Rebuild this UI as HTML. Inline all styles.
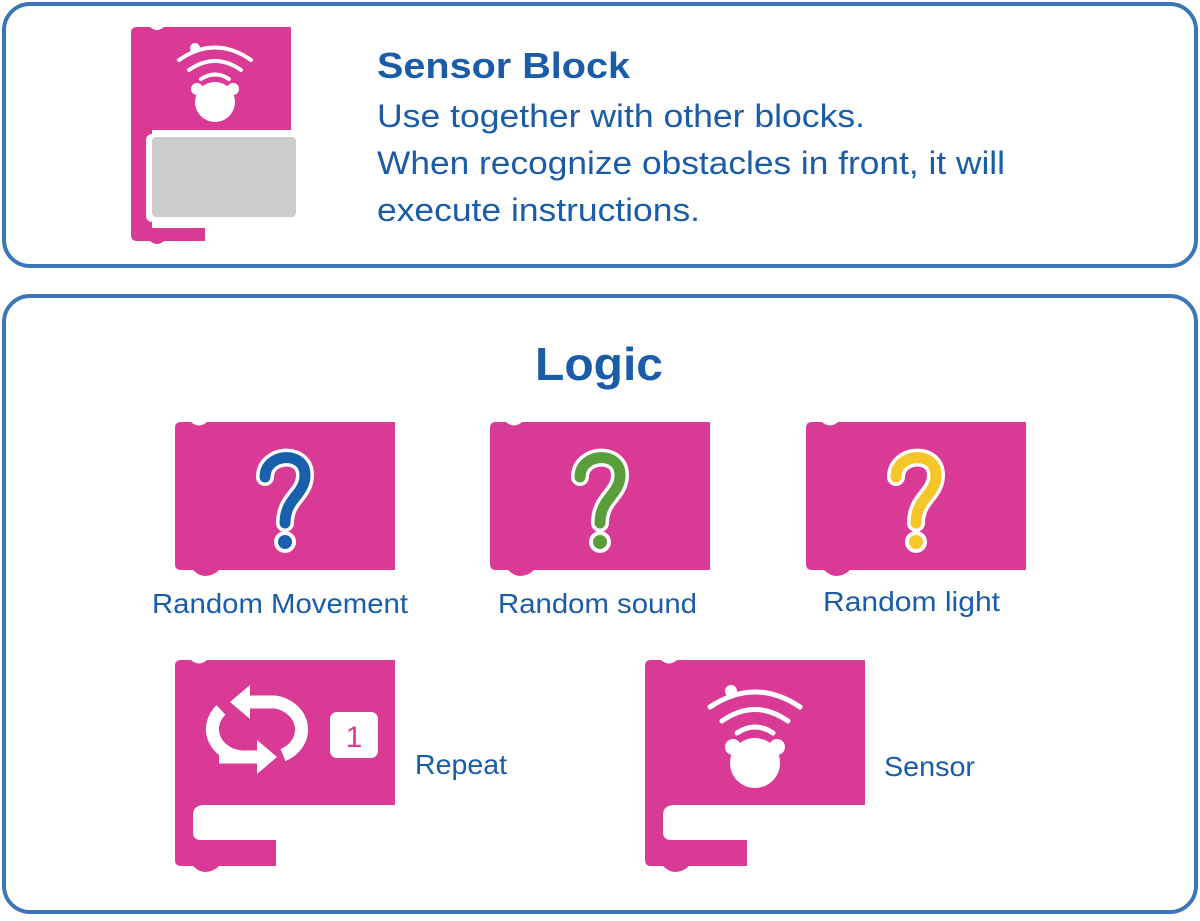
<!DOCTYPE html>
<html><head><meta charset="utf-8"><style>
body{margin:0;background:#fff;width:1200px;height:916px;overflow:hidden}
svg text{font-family:"Liberation Sans",sans-serif;fill:#1a5ca8}
</style></head><body>
<svg width="1200" height="916" viewBox="0 0 1200 916">
<defs>
<g id="qmark">
<path d="M-20,27 C-20,3 20,0 20,25 C20,45 0,48 0,73" fill="none" stroke="#fff" stroke-width="18" stroke-linecap="round"/>
<circle cx="0" cy="92" r="11" fill="#fff"/>
</g>
</defs>
<rect x="4" y="4" width="1192" height="262" rx="26" fill="#fff" stroke="#3b76b8" stroke-width="4"/>
<rect x="4" y="296" width="1192" height="616" rx="26" fill="#fff" stroke="#3b76b8" stroke-width="4"/>

<g>
<path d="M137,27 L150,27 Q157,33 164,27 L291,27 L291,130 L152,130 L152,228 L205,228 L205,241 L164,241 Q157,247 150,241 L137,241 Q131,241 131,235 L131,33 Q131,27 137,27Z" fill="#d93a96"/>
<rect x="146" y="134" width="152" height="88" rx="6" fill="#fff"/>
<rect x="152" y="137" width="144" height="80" rx="4" fill="#ccc"/>
<path d="M179,60 Q215,35 251,60" fill="none" stroke="#fff" stroke-width="4" stroke-linecap="round"/>
<circle cx="195" cy="48" r="5" fill="#fff"/>
<path d="M189,70 Q215,52 241,70" fill="none" stroke="#fff" stroke-width="4" stroke-linecap="round"/>
<path d="M201,79 Q215,70 229,79" fill="none" stroke="#fff" stroke-width="4" stroke-linecap="round"/>
<circle cx="215" cy="102" r="20" fill="#fff"/><circle cx="197" cy="89" r="6" fill="#fff"/><circle cx="233" cy="89" r="6" fill="#fff"/>
</g>
<text x="377" y="78" font-size="36" font-weight="bold" textLength="253" lengthAdjust="spacingAndGlyphs">Sensor Block</text>
<text x="377" y="127" font-size="32" textLength="488" lengthAdjust="spacingAndGlyphs">Use together with other blocks.</text>
<text x="377" y="174" font-size="32" textLength="628" lengthAdjust="spacingAndGlyphs">When recognize obstacles in front, it will</text>
<text x="377" y="221" font-size="32" textLength="323" lengthAdjust="spacingAndGlyphs">execute instructions.</text>

<text x="535" y="380" font-size="46" font-weight="bold" textLength="128" lengthAdjust="spacingAndGlyphs">Logic</text>

<g transform="translate(175,422)">
<path d="M6,0 L16,0 Q24,7 32,0 L220,0 L220,148 L44,148 Q38,154 30,154 Q24,154 18,148 L6,148 Q0,148 0,142 L0,6 Q0,0 6,0Z" fill="#d93a96"/>
<g transform="translate(110,28)"><use href="#qmark"/><path d="M-20,27 C-20,3 20,0 20,25 C20,45 0,48 0,73" fill="none" stroke="#1a5fab" stroke-width="11" stroke-linecap="round"/><circle cx="0" cy="92" r="7" fill="#1a5fab"/></g>
</g>
<g transform="translate(490,422)">
<path d="M6,0 L16,0 Q24,7 32,0 L220,0 L220,148 L44,148 Q38,154 30,154 Q24,154 18,148 L6,148 Q0,148 0,142 L0,6 Q0,0 6,0Z" fill="#d93a96"/>
<g transform="translate(110,28)"><use href="#qmark"/><path d="M-20,27 C-20,3 20,0 20,25 C20,45 0,48 0,73" fill="none" stroke="#5a9e3c" stroke-width="11" stroke-linecap="round"/><circle cx="0" cy="92" r="7" fill="#5a9e3c"/></g>
</g>
<g transform="translate(806,422)">
<path d="M6,0 L16,0 Q24,7 32,0 L220,0 L220,148 L44,148 Q38,154 30,154 Q24,154 18,148 L6,148 Q0,148 0,142 L0,6 Q0,0 6,0Z" fill="#d93a96"/>
<g transform="translate(110,28)"><use href="#qmark"/><path d="M-20,27 C-20,3 20,0 20,25 C20,45 0,48 0,73" fill="none" stroke="#f5c62a" stroke-width="11" stroke-linecap="round"/><circle cx="0" cy="92" r="7" fill="#f5c62a"/></g>
</g>
<text x="152" y="613" font-size="28" textLength="256" lengthAdjust="spacingAndGlyphs">Random Movement</text>
<text x="498" y="613" font-size="28" textLength="199" lengthAdjust="spacingAndGlyphs">Random sound</text>
<text x="823" y="611" font-size="28" textLength="177" lengthAdjust="spacingAndGlyphs">Random light</text>

<g transform="translate(175,660)">
<path d="M6,0 L16,0 Q24,7 32,0 L220,0 L220,145 L30,145 Q18,145 18,155 L18,172 Q18,180 26,180 L101,180 L101,206 L44,206 Q38,212 30,212 Q24,212 18,206 L6,206 Q0,206 0,200 L0,6 Q0,0 6,0Z" fill="#d93a96"/>
<path d="M46,50 A32,28 0 0 0 67,97" fill="none" stroke="#fff" stroke-width="13"/>
<path d="M75,42 L100,42 A32,28 0 0 1 108,95" fill="none" stroke="#fff" stroke-width="13"/>
<path d="M44,97 L85,97" stroke="#fff" stroke-width="13"/>
<path d="M75,25 L55,42 L75,59Z" fill="#fff"/>
<path d="M82,80 L102,97 L82,114Z" fill="#fff"/>
<rect x="155" y="52" width="48" height="46" rx="7" fill="#fff"/>
<text x="179" y="87" font-size="30" text-anchor="middle" style="fill:#d93a96">1</text>
</g>
<text x="415" y="774" font-size="28" textLength="92" lengthAdjust="spacingAndGlyphs">Repeat</text>

<g transform="translate(645,660)">
<path d="M6,0 L16,0 Q24,7 32,0 L220,0 L220,145 L30,145 Q18,145 18,155 L18,172 Q18,180 26,180 L102,180 L102,206 L44,206 Q38,212 30,212 Q24,212 18,206 L6,206 Q0,206 0,200 L0,6 Q0,0 6,0Z" fill="#d93a96"/>
<path d="M65,47 Q110,17 155,47" fill="none" stroke="#fff" stroke-width="5" stroke-linecap="round"/>
<circle cx="86" cy="31" r="6" fill="#fff"/>
<path d="M77,61 Q110,38 143,61" fill="none" stroke="#fff" stroke-width="5" stroke-linecap="round"/>
<path d="M92,73 Q110,61 128,73" fill="none" stroke="#fff" stroke-width="5" stroke-linecap="round"/>
<circle cx="110" cy="103" r="25" fill="#fff"/><circle cx="88" cy="87" r="8" fill="#fff"/><circle cx="132" cy="87" r="8" fill="#fff"/>
</g>
<text x="884" y="776" font-size="28" textLength="91" lengthAdjust="spacingAndGlyphs">Sensor</text>
</svg>
</body></html>
